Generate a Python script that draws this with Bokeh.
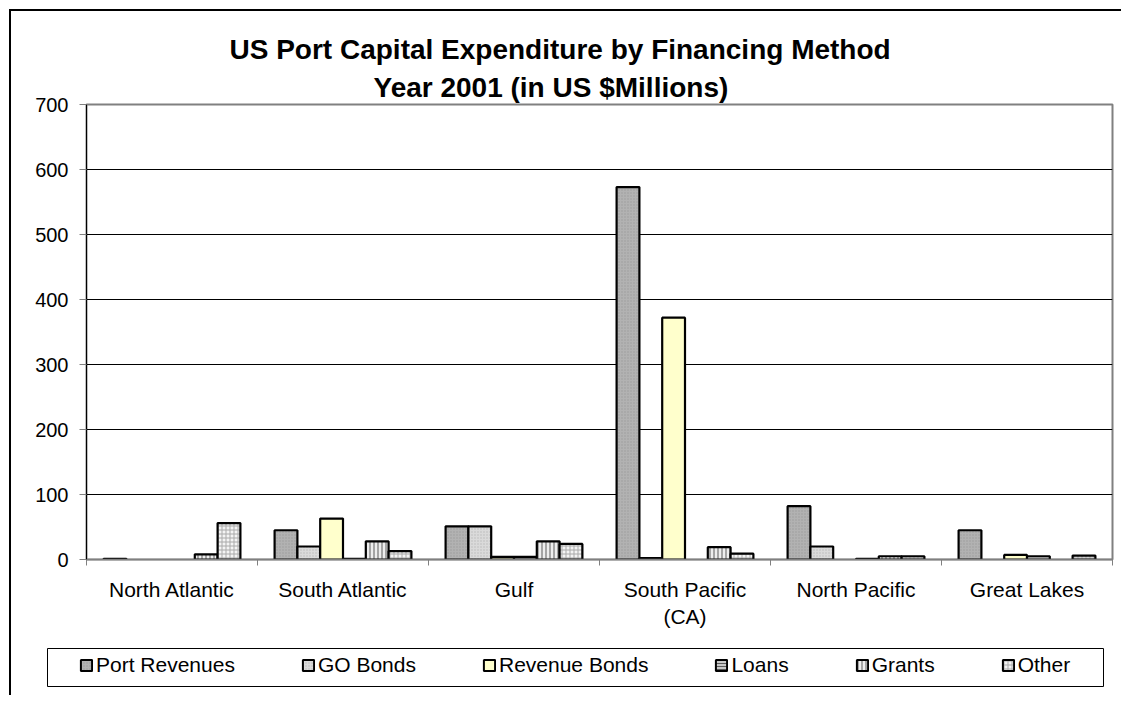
from bokeh.plotting import figure
from bokeh.layouts import column, row
from bokeh.models import (ColumnDataSource, Range1d, FixedTicker,
                          Legend, LegendItem, Title)
from bokeh.transform import dodge
from bokeh.embed import file_html
from bokeh.resources import INLINE

# ---- data (US $ millions, year 2001) ----
regions = ["North Atlantic", "South Atlantic", "Gulf", "South Pacific\n(CA)",
           "North Pacific", "Great Lakes"]
series_names = ["Port Revenues", "GO Bonds", "Revenue Bonds", "Loans", "Grants", "Other"]
port_revenues = [1, 45, 51, 573, 82, 45]
go_bonds = [0, 20, 51, 2, 20, 0]
revenue_bonds = [0, 63, 4, 372, 0, 7]
loans = [0, 1, 4, 0, 1, 5]
grants = [8, 28, 28, 19, 5, 0]
other = [56, 13, 24, 9, 5, 6]
y_ticks = [0, 100, 200, 300, 400, 500, 600, 700]
title_line1 = "US Port Capital Expenditure by Financing Method"
title_line2 = "Year 2001  (in US $Millions)"

series_values = [port_revenues, go_bonds, revenue_bonds, loans, grants, other]

# ---- styles ----
styles = [
    dict(fill_color="#b2b2b2", hatch_pattern="dot", hatch_color="#9a9a9a", hatch_scale=3, hatch_weight=1),
    dict(fill_color="#dadada", hatch_pattern="dot", hatch_color="#b8b8b8", hatch_scale=3, hatch_weight=1),
    dict(fill_color="#ffffcc"),
    dict(fill_color="#c8c8c8", hatch_pattern="horizontal_line", hatch_color="#5a5a5a", hatch_scale=3, hatch_weight=1),
    dict(fill_color="#eeeeee", hatch_pattern="vertical_line", hatch_color="#8c8c8c", hatch_scale=4, hatch_weight=1.5),
    dict(fill_color="#f4f4f4", hatch_pattern="cross", hatch_color="#aaaaaa", hatch_scale=4, hatch_weight=1),
]

FONT = "Liberation Sans"

# category slots: region i occupies [i, i+1] on the x scale
centers = [i + 0.5 for i in range(len(regions))]
data = {"region": regions, "xc": centers}
for name, vals in zip(series_names, series_values):
    data[name] = [v if v > 0 else float("nan") for v in vals]
source = ColumnDataSource(data)

p = figure(x_range=Range1d(0, len(regions)), y_range=Range1d(0, 700),
           width=1110, height=629, output_backend="svg", toolbar_location=None,
           title=title_line1,
           min_border_left=75, min_border_right=9, min_border_top=93, min_border_bottom=81)

# title lines (p.title is the upper line, the added Title sits next to the frame)
p.title.text_font = FONT
p.title.text_font_size = "28px"
p.title.text_font_style = "bold"
p.title.text_color = "black"
p.title.align = "left"
p.title.offset = 143
p.title.standoff = 5
t2 = Title(text=title_line2, text_font=FONT, text_color="black",
           text_font_size="28px", text_font_style="bold", align="left", offset=287, standoff=4)
p.add_layout(t2, "above")

# bars
n = len(series_names)
w = 1.0 / 7.5
for k, (name, st) in enumerate(zip(series_names, styles)):
    off = (k - (n - 1) / 2) * w
    p.vbar(x=dodge("xc", off), top=name, width=w, source=source,
           line_color="black", line_width=2.2, **st)

# y axis
p.yaxis.ticker = FixedTicker(ticks=y_ticks)
p.yaxis.major_label_text_font = FONT
p.yaxis.major_label_text_font_size = "20px"
p.yaxis.major_label_text_color = "black"
p.yaxis.axis_line_color = "black"
p.yaxis.axis_line_width = 1
p.yaxis.major_tick_line_color = "#808080"
p.yaxis.major_tick_in = 0
p.yaxis.major_tick_out = 7
p.yaxis.minor_tick_line_color = None
p.yaxis.major_label_standoff = 11

# x axis: labels at slot centres, ticks at slot boundaries
xax = p.xaxis[0]
xax.ticker = FixedTicker(ticks=centers, minor_ticks=list(range(len(regions) + 1)))
xax.major_label_overrides = {c: lab for c, lab in zip(centers, regions)}
xax.major_label_text_font = FONT
xax.major_label_text_font_size = "21px"
xax.major_label_text_color = "black"
xax.axis_line_color = "#808080"
xax.axis_line_width = 1.5
xax.major_tick_line_color = None
xax.major_tick_in = 0
xax.major_tick_out = 0
xax.minor_tick_line_color = "#808080"
xax.minor_tick_in = 0
xax.minor_tick_out = 6
xax.major_label_standoff = 12

# grid / frame
p.xgrid.visible = False
p.ygrid.ticker = FixedTicker(ticks=y_ticks[1:-1])
p.ygrid.grid_line_color = "black"
p.ygrid.grid_line_width = 1
p.outline_line_color = "#808080"
p.outline_line_width = 2
p.background_fill_color = "white"
p.border_fill_color = "white"

# ---- legend strip (its frame is the legend box) ----
q = figure(x_range=Range1d(0, 1), y_range=Range1d(0, 1), width=1110, height=55,
           output_backend="svg", toolbar_location=None,
           x_axis_location=None, y_axis_location=None,
           min_border_left=36, min_border_right=18, min_border_top=8, min_border_bottom=9)
q.xgrid.visible = False
q.ygrid.visible = False
q.outline_line_color = "black"
q.outline_line_width = 1
q.border_fill_color = "white"

nan = float("nan")
legend_renderers = []
for name, st in zip(series_names, styles):
    r = q.vbar(x=[nan], top=[nan], width=0.1, line_color="black", line_width=2, **st)
    legend_renderers.append(r)

legend = Legend(items=[LegendItem(label=nm, renderers=[r]) for nm, r in zip(series_names, legend_renderers)],
                orientation="horizontal", location=(32, 9), spacing=66, padding=0, margin=0,
                glyph_width=14, glyph_height=14, label_standoff=3, label_height=20,
                label_text_font=FONT, label_text_font_size="21px", label_text_color="black",
                border_line_alpha=0, background_fill_alpha=0)
q.add_layout(legend, "center")

layout = column(p, row(q, spacing=0), spacing=0, margin=(9, 0, 0, 9),
                styles={"border-left": "2px solid black", "border-top": "2px solid black"})

open("out.html", "w").write(file_html(layout, INLINE))
